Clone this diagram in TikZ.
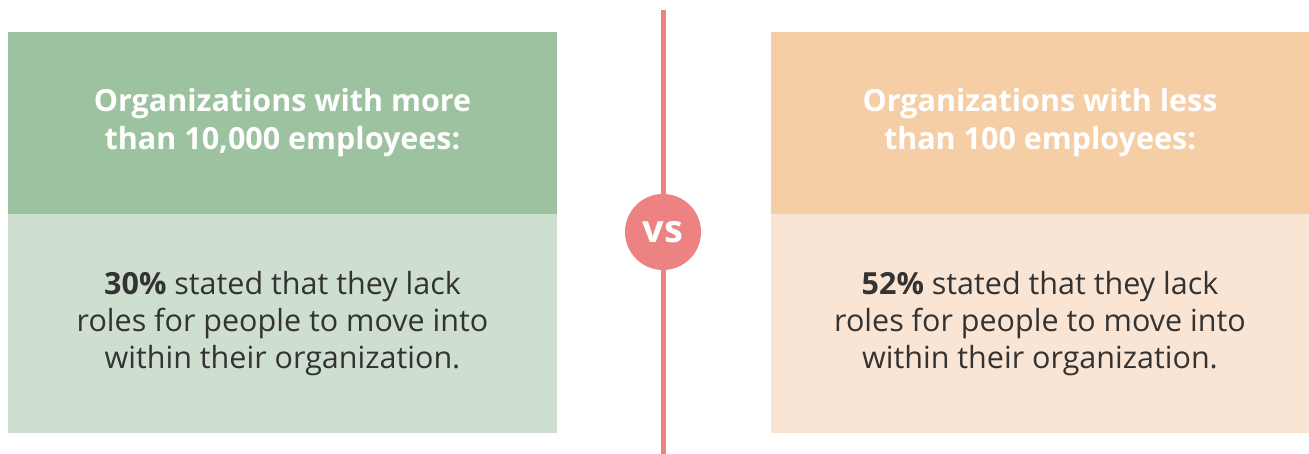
\documentclass[tikz,border=0pt]{standalone}
\usepackage{fontspec}
\setmainfont{Open Sans}
\usetikzlibrary{positioning}
\definecolor{greenhead}{HTML}{9CC2A0}
\definecolor{greenbody}{HTML}{CEDFD0}
\definecolor{orangehead}{HTML}{F5CEA6}
\definecolor{orangebody}{HTML}{FAE4D3}
\definecolor{vsred}{HTML}{EC8282}
\definecolor{textgrey}{HTML}{333333}
\tikzset{headbox/.style={minimum height=182pt,inner sep=0pt,text=white,align=center,
  font=\fontsize{30.5}{38}\selectfont\bfseries}}
\tikzset{bodybox/.style={minimum height=219pt,inner sep=0pt,text=textgrey,align=center,
  font=\fontsize{30.5}{37}\selectfont}}

\begin{document}
\begin{tikzpicture}[x=1pt,y=1pt]
\useasboundingbox[fill=white] (0,0) rectangle (1309,454);

% left column
\node[headbox,fill=greenhead,minimum width=549pt] (headL) at (282.5,331)
  {Organizations with more\\than 10,000 employees:};
\node[bodybox,fill=greenbody,minimum width=549pt,below=0pt of headL] (bodyL)
  {\textbf{30\%} stated that they lack\\roles for people to move into\\within their organization.};

% right column
\node[headbox,fill=orangehead,minimum width=538pt] (headR) at (1040,331)
  {Organizations with less\\than 100 employees:};
\node[bodybox,fill=orangebody,minimum width=538pt,below=0pt of headR] (bodyR)
  {\textbf{52\%} stated that they lack\\roles for people to move into\\within their organization.};

% divider
\coordinate (top) at (663,444);
\coordinate (bottom) at (663,0);
\draw[vsred,line width=5pt] (top) -- (bottom);
\node[circle,fill=vsred,minimum size=76pt,inner sep=0pt,text=white,
  font=\fontsize{38}{38}\selectfont\bfseries] (vs) at (663,222) {vs};
\end{tikzpicture}
\end{document}
